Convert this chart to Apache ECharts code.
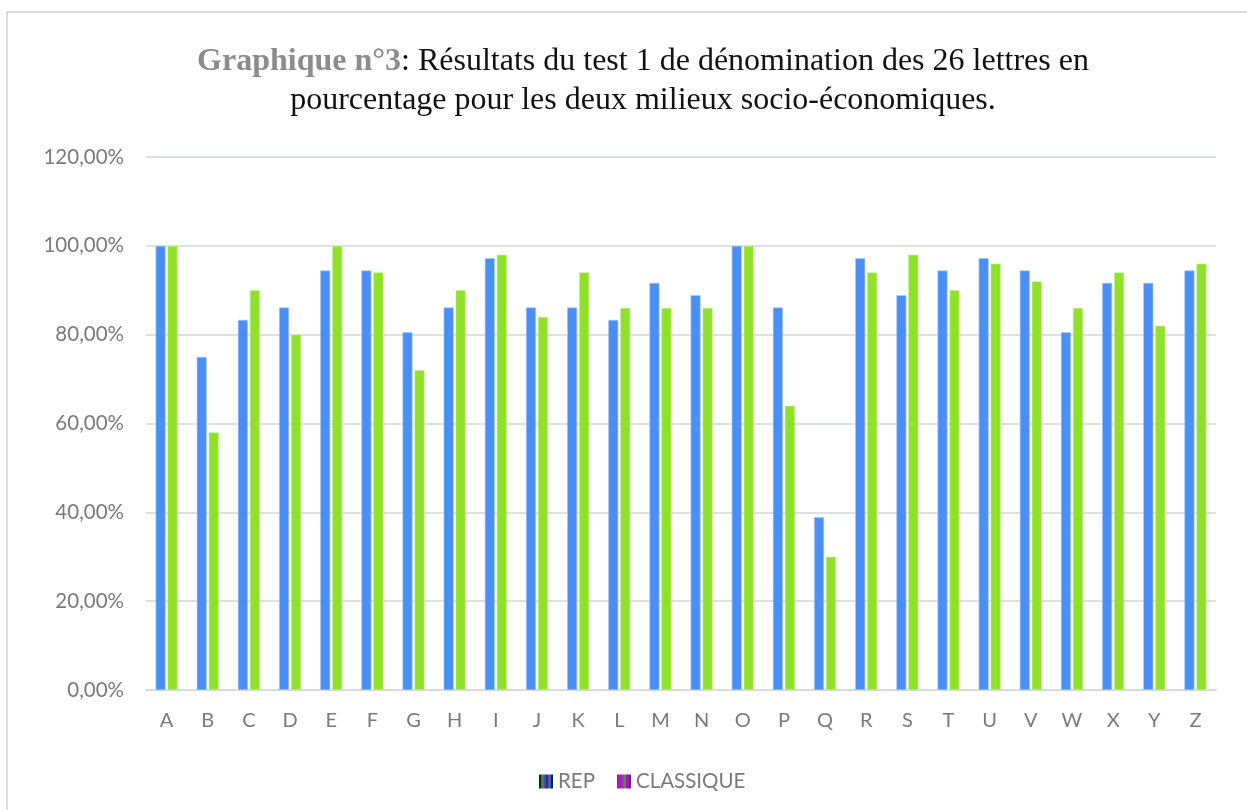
<!DOCTYPE html>
<html>
<head>
<meta charset="utf-8">
<script src="https://cdn.jsdelivr.net/npm/echarts@6/dist/echarts.min.js"></script>
<style>
  html, body { margin: 0; padding: 0; background: #fff; }
  #chart { width: 1247px; height: 810px; }
</style>
</head>
<body>
<div id="chart"></div>
<script>
// lettres de l'alphabet
const letters = ['A','B','C','D','E','F','G','H','I','J','K','L','M','N','O','P','Q','R','S','T','U','V','W','X','Y','Z'];
// % REP
const rep = [100, 75, 83.33, 86.11, 94.44, 94.44, 80.56, 86.11, 97.22, 86.11, 86.11, 83.33, 91.67,
  88.89, 100, 86.11, 38.89, 97.22, 88.89, 94.44, 97.22, 94.44, 80.56, 91.67, 91.67, 94.44];
// % CLASSIQUE
const classique = [100, 58, 90, 80, 100, 94, 72, 90, 98, 84, 94, 86, 86,
  86, 100, 64, 30, 94, 98, 90, 96, 92, 86, 94, 82, 96];
const yTicks = [0, 20, 40, 60, 80, 100, 120];

const chart = echarts.init(document.getElementById('chart'));

// petites icônes rayées comme dans la légende d'origine
function stripes(colors) {
  const stops = [];
  colors.forEach((c, i) => {
    stops.push({ offset: i / colors.length, color: c });
    stops.push({ offset: (i + 1) / colors.length - 0.001, color: c });
  });
  return new echarts.graphic.LinearGradient(0, 0, 1, 0, stops);
}

const labelFont = 'Lato, "Open Sans", sans-serif';

chart.setOption({
  animation: false,
  graphic: [
    {
      type: 'rect',
      shape: { x: 7, y: 12, width: 1260, height: 820 },
      style: { fill: 'none', stroke: '#dcdcdc', lineWidth: 2 },
    },
  ],
  title: {
    left: 638,
    textAlign: 'center',
    top: 37,
    text: '{b|Graphique n°3}: Résultats du test 1 de dénomination des 26 lettres en\npourcentage pour les deux milieux socio-économiques.',
    textStyle: {
      fontFamily: '"Liberation Serif", "DejaVu Serif", serif',
      fontSize: 32,
      fontWeight: 'normal',
      color: '#111',
      lineHeight: 39,
      rich: {
        b: {
          fontFamily: '"Liberation Serif", serif',
          fontSize: 32,
          fontWeight: 'bold',
          color: '#8c8c8c',
        },
      },
    },
  },
  legend: {
    bottom: 13,
    left: 534,
    itemWidth: 14,
    itemHeight: 14,
    itemGap: 22,
    textStyle: { color: '#7a7a7a', fontSize: 20.5, fontFamily: labelFont },
    data: [
      { name: 'REP', icon: 'rect', itemStyle: { borderWidth: 0, color: stripes(['#1a1a1a', '#2e8b3a', '#2850c8', '#6b1a3a', '#3060d0', '#1a1a1a']) } },
      { name: 'CLASSIQUE', icon: 'rect', itemStyle: { borderWidth: 0, color: stripes(['#c0108a', '#8030d0', '#d020c0', '#30a040', '#b010b0', '#6020c0']) } },
    ],
  },
  grid: { left: 146, right: 31, top: 157, bottom: 120 },
  xAxis: {
    type: 'category',
    data: letters,
    axisTick: { show: false },
    axisLine: { lineStyle: { color: '#d9dcdb', width: 2 } },
    axisLabel: { color: '#7a7a7a', fontSize: 20, fontFamily: labelFont, margin: 21 },
  },
  yAxis: {
    type: 'value',
    min: yTicks[0],
    max: yTicks[yTicks.length - 1],
    interval: 20,
    axisLine: { show: false },
    axisTick: { show: false },
    splitLine: { lineStyle: { color: '#dde1e0', width: 2 } },
    axisLabel: {
      color: '#7a7a7a',
      fontSize: 20.5,
      fontFamily: labelFont,
      margin: 22,
      formatter: (v) => v.toFixed(2).replace('.', ',') + '%',
    },
  },
  series: [
    {
      name: 'REP',
      type: 'bar',
      data: rep,
      barWidth: 10,
      barGap: '20%',
      itemStyle: { color: '#4a8ff5', borderColor: '#a9c9f7', borderWidth: 0.6 },
    },
    {
      name: 'CLASSIQUE',
      type: 'bar',
      data: classique,
      barWidth: 10,
      itemStyle: { color: '#90e12a', borderColor: '#c7ef95', borderWidth: 0.6 },
    },
  ],
});
</script>
</body>
</html>
